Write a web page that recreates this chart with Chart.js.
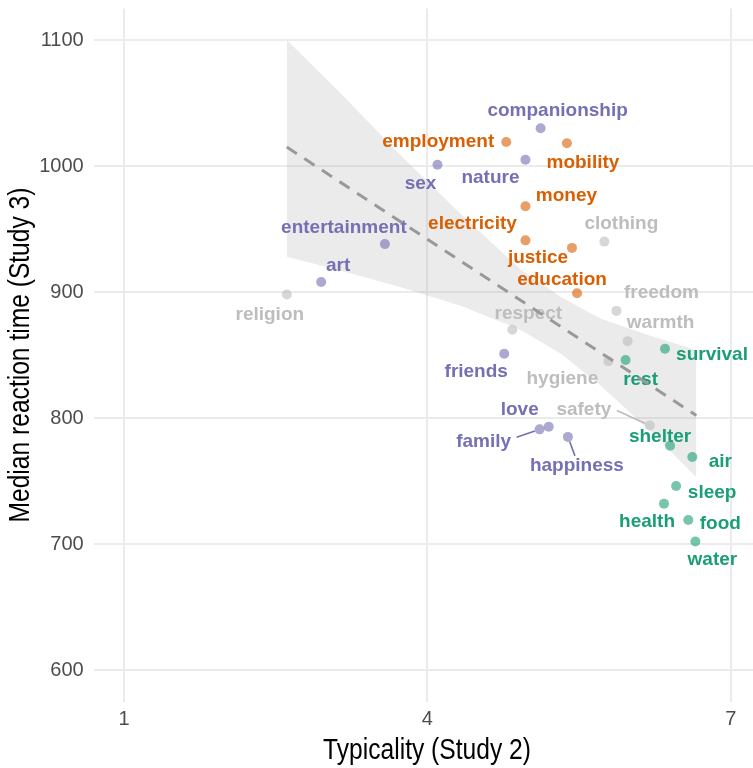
<!DOCTYPE html>
<html>
<head>
<meta charset="utf-8">
<script src="https://cdn.jsdelivr.net/npm/chart.js@4.4.1/dist/chart.umd.min.js"></script>
<style>
  html, body { margin: 0; padding: 0; background: #fff; }
  canvas { display: block; }
</style>
</head>
<body>
<canvas id="grafico" width="753" height="768"></canvas>
<script>
// Datos: tipicidad (x) y tiempo de reacción mediano (y)
const socialWords = ['companionship', 'nature', 'sex', 'entertainment', 'art', 'friends', 'love', 'family', 'happiness'];
const socialX = [5.12, 4.97, 4.10, 3.58, 2.95, 4.76, 5.20, 5.11, 5.39];
const socialY = [1030, 1005, 1001, 938, 908, 851, 793, 791, 785];

const societyWords = ['employment', 'mobility', 'money', 'electricity', 'justice', 'education'];
const societyX = [4.78, 5.38, 4.97, 4.97, 5.43, 5.48];
const societyY = [1019, 1018, 968, 941, 935, 899];

const otherWords = ['religion', 'clothing', 'freedom', 'respect', 'warmth', 'hygiene', 'safety'];
const otherX = [2.61, 5.75, 5.87, 4.84, 5.98, 5.79, 6.20];
const otherY = [898, 940, 885, 870, 861, 845, 794];

const survivalWords = ['survival', 'rest', 'shelter', 'air', 'sleep', 'health', 'food', 'water'];
const survivalX = [6.35, 5.96, 6.40, 6.62, 6.46, 6.34, 6.58, 6.65];
const survivalY = [855, 846, 778, 769, 746, 732, 719, 702];

// recta de ajuste y su banda de confianza
const fitX = [2.61, 6.66];
const fitY = [1015, 802];
const bandX = [2.61, 3.14, 3.73, 4.33, 4.92, 5.32, 5.71, 6.21, 6.66];
const bandUpper = [1100, 1058, 1009, 962, 918, 896, 879, 865, 854];
const bandLower = [928, 917, 904, 889, 870, 851, 826, 789, 753];

// ticks
const xTicks = [1, 4, 7];
const yTicks = [600, 700, 800, 900, 1000, 1100];

// posición de las etiquetas (px, relativo al punto)
const labelOffsets = {
  companionship: [17, -17], nature: [-35, 18], sex: [-17, 19], entertainment: [-41, -16],
  art: [17, -16], friends: [-28, 18], love: [-29, -17], family: [-56, 12], happiness: [9, 29],
  employment: [-68, 0], mobility: [16, 19], money: [41, -11], electricity: [-53, -17],
  justice: [-34, 10], education: [-15, -13],
  religion: [-17, 20], clothing: [17, -18], freedom: [45, -18], respect: [16, -16],
  warmth: [33, -18], hygiene: [-46, 17], safety: [-66, -16],
  survival: [47, 6], rest: [15, 20], shelter: [-10, -9], air: [28, 5], sleep: [36, 7],
  health: [-17, 18], food: [32, 4], water: [17, 18]
};
// segmentos guía (inicio relativo al punto)
const leaders = { family: [-23, 8], happiness: [7, 19], safety: [-33, -15] };

const groups = [
  { words: socialWords, xs: socialX, ys: socialY, text: '#7570b3', dot: 'rgba(117,112,179,0.6)' },
  { words: societyWords, xs: societyX, ys: societyY, text: '#d95f02', dot: 'rgba(217,95,2,0.6)' },
  { words: otherWords, xs: otherX, ys: otherY, text: '#bdbdbd', dot: 'rgba(189,189,189,0.6)' },
  { words: survivalWords, xs: survivalX, ys: survivalY, text: '#1b9e77', dot: 'rgba(27,158,119,0.6)' }
];

const toPoints = (xs, ys) => xs.map((x, i) => ({ x: x, y: ys[i] }));

const datasets = [
  {
    type: 'line', label: 'fit', data: toPoints(fitX, fitY),
    borderColor: '#999999', borderWidth: 3, borderDash: [12, 9],
    pointRadius: 0, fill: false, order: 0
  }
];
groups.forEach(g => {
  datasets.push({
    type: 'scatter', data: toPoints(g.xs, g.ys),
    pointRadius: 5, pointBackgroundColor: g.dot, pointBorderWidth: 0, order: 1
  });
});
datasets.push({
  type: 'line', label: 'upper', data: toPoints(bandX, bandUpper),
  borderWidth: 0, pointRadius: 0, fill: '+1',
  backgroundColor: 'rgba(153,153,153,0.2)', order: 3
});
datasets.push({
  type: 'line', label: 'lower', data: toPoints(bandX, bandLower),
  borderWidth: 0, pointRadius: 0, fill: false, order: 3
});

// dibuja etiquetas antes de la recta discontinua, y los títulos de ejes al final
const etiquetas = {
  id: 'etiquetas',
  beforeDatasetDraw(chart, args) {
    if (chart.data.datasets[args.index].label !== 'fit') return;
    const c = chart.ctx, sx = chart.scales.x, sy = chart.scales.y;
    c.save();
    groups.forEach(g => {
      g.words.forEach((w, i) => {
        const px = sx.getPixelForValue(g.xs[i]);
        const py = sy.getPixelForValue(g.ys[i]);
        if (leaders[w]) {
          const lx = px + leaders[w][0], ly = py + leaders[w][1];
          const d = Math.hypot(px - lx, py - ly);
          c.strokeStyle = g.text;
          c.lineWidth = 1.6;
          c.beginPath();
          c.moveTo(lx, ly);
          c.lineTo(px - (px - lx) * 5 / d, py - (py - ly) * 5 / d);
          c.stroke();
        }
        const off = labelOffsets[w];
        c.fillStyle = g.text;
        c.font = 'bold 19px "Liberation Sans", Arial, sans-serif';
        c.textAlign = 'center';
        c.textBaseline = 'middle';
        c.fillText(w, px + off[0], py + off[1]);
      });
    });
    c.restore();
  },
  afterDraw(chart) {
    const c = chart.ctx;
    c.save();
    c.fillStyle = '#000';
    c.textAlign = 'center';
    c.textBaseline = 'middle';
    c.font = '30px "Liberation Sans", Arial, sans-serif';
    c.save();
    c.translate(427, 751);
    c.scale(0.82, 1);
    c.fillText('Typicality (Study 2)', 0, 0);
    c.restore();
    c.save();
    c.translate(21, 355);
    c.rotate(-Math.PI / 2);
    c.scale(0.82, 1);
    c.fillText('Median reaction time (Study 3)', 0, 0);
    c.restore();
    c.restore();
  }
};

const tickFont = { family: '"Liberation Sans", Arial, sans-serif', size: 20 };

new Chart(document.getElementById('grafico').getContext('2d'), {
  type: 'scatter',
  data: { datasets: datasets },
  options: {
    responsive: false,
    animation: false,
    events: [],
    layout: { autoPadding: false, padding: { top: 8.5, right: 0, bottom: 0, left: 0 } },
    plugins: { legend: { display: false }, tooltip: { enabled: false } },
    scales: {
      x: {
        type: 'linear', min: 0.7, max: 7.22,
        afterBuildTicks: s => { s.ticks = xTicks.map(v => ({ value: v })); },
        afterFit: s => { s.height = 66.5; s.paddingLeft = 0; s.paddingRight = 0; },
        grid: { color: '#ebebeb', lineWidth: 2, drawTicks: false },
        border: { display: false },
        ticks: { font: tickFont, color: '#4d4d4d', padding: 6, callback: v => String(v) }
      },
      y: {
        type: 'linear', min: 575, max: 1125,
        afterBuildTicks: s => { s.ticks = yTicks.map(v => ({ value: v })); },
        afterFit: s => { s.width = 93.65; s.paddingTop = 0; s.paddingBottom = 0; },
        grid: { color: '#ebebeb', lineWidth: 2, drawTicks: false },
        border: { display: false },
        ticks: { font: tickFont, color: '#4d4d4d', padding: 10, callback: v => String(v) }
      }
    }
  },
  plugins: [etiquetas]
});
</script>
</body>
</html>
